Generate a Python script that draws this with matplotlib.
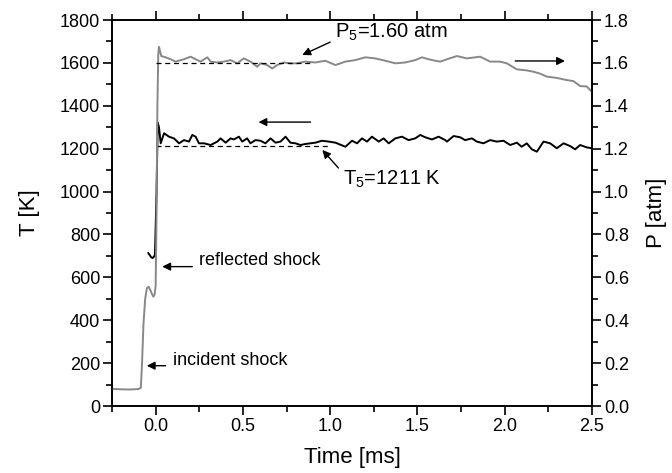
import matplotlib.pyplot as plt
from matplotlib.ticker import MultipleLocator

plt.rcParams['font.family'] = ['Liberation Sans', 'DejaVu Sans']
plt.rcParams['mathtext.fontset'] = 'custom'
plt.rcParams['mathtext.rm'] = 'Liberation Sans'
plt.rcParams['mathtext.it'] = 'Liberation Sans:italic'
plt.rcParams['mathtext.bf'] = 'Liberation Sans:bold'

# Pressure trace (atm), right axis
t_p = [-0.25, -0.20, -0.15, -0.10, -0.085, -0.078, -0.07, -0.06, -0.05, -0.04,
       -0.03, -0.02, -0.013, -0.006, 0.0, 0.005, 0.01, 0.015, 0.019,
       0.032, 0.057, 0.086, 0.114, 0.162, 0.200, 0.229, 0.257, 0.296, 0.315,
       0.353, 0.391, 0.429, 0.467, 0.505, 0.543, 0.582, 0.601, 0.639, 0.668,
       0.696, 0.734, 0.772, 0.810, 0.830, 0.858, 0.915, 0.972, 1.030, 1.087,
       1.144, 1.201, 1.258, 1.316, 1.373, 1.430, 1.487, 1.526, 1.564, 1.602,
       1.630, 1.669, 1.726, 1.783, 1.859, 1.916, 1.973, 2.012, 2.069, 2.126,
       2.164, 2.202, 2.241, 2.298, 2.355, 2.393, 2.432, 2.470, 2.498]
p = [0.080, 0.078, 0.077, 0.079, 0.085, 0.20, 0.38, 0.50, 0.550, 0.556,
     0.540, 0.520, 0.510, 0.520, 0.560, 0.90, 1.40, 1.640, 1.675,
     1.632, 1.626, 1.617, 1.606, 1.617, 1.629, 1.617, 1.606, 1.626, 1.606,
     1.602, 1.606, 1.613, 1.598, 1.621, 1.606, 1.582, 1.598, 1.590, 1.574,
     1.590, 1.602, 1.598, 1.598, 1.602, 1.606, 1.602, 1.610, 1.590, 1.606,
     1.613, 1.626, 1.621, 1.610, 1.598, 1.602, 1.613, 1.626, 1.617, 1.610,
     1.606, 1.617, 1.632, 1.621, 1.629, 1.606, 1.606, 1.598, 1.570, 1.565,
     1.559, 1.550, 1.536, 1.530, 1.520, 1.515, 1.492, 1.490, 1.466]

# Temperature trace (K), left axis
t_T = [-0.042, -0.034, -0.026, -0.018, -0.010, -0.004, 0.005, 0.012, 0.019,
       0.029, 0.048, 0.076, 0.105, 0.134, 0.162, 0.191, 0.210, 0.229, 0.248,
       0.277, 0.315, 0.353, 0.372, 0.401, 0.429, 0.448, 0.477, 0.496, 0.524,
       0.543, 0.572, 0.601, 0.629, 0.658, 0.687, 0.715, 0.744, 0.772, 0.801,
       0.830, 0.858, 0.915, 0.953, 0.992, 1.030, 1.087, 1.125, 1.154, 1.182,
       1.211, 1.239, 1.278, 1.306, 1.335, 1.373, 1.411, 1.449, 1.487, 1.516,
       1.545, 1.583, 1.621, 1.659, 1.669, 1.707, 1.745, 1.773, 1.812, 1.840,
       1.878, 1.916, 1.954, 1.993, 2.031, 2.069, 2.097, 2.126, 2.155, 2.184,
       2.222, 2.260, 2.298, 2.337, 2.375, 2.403, 2.432, 2.470, 2.498]
T = [713, 704, 694, 690, 696, 705, 1000, 1321, 1300,
     1225, 1272, 1256, 1248, 1225, 1240, 1233, 1264, 1256, 1225,
     1225, 1217, 1233, 1248, 1228, 1248, 1243, 1256, 1233, 1248,
     1225, 1240, 1237, 1225, 1248, 1228, 1233, 1256, 1228, 1225,
     1217, 1222, 1228, 1237, 1233, 1228, 1209, 1237, 1225, 1248,
     1233, 1256, 1233, 1248, 1225, 1248, 1256, 1240, 1248, 1264,
     1253, 1243, 1256, 1240, 1233, 1259, 1253, 1240, 1248, 1233,
     1225, 1240, 1233, 1237, 1217, 1228, 1209, 1225, 1197, 1186,
     1233, 1225, 1202, 1225, 1212, 1197, 1217, 1206, 1202]

T5 = 1211
P5 = 1.60

fig = plt.figure(figsize=(6.72, 4.73), dpi=100)
ax = fig.add_axes([0.1667, 0.1416, 0.7143, 0.8161])
ax2 = ax.twinx()

ax.plot(t_T, T, color='black', lw=1.4, zorder=2)
ax.plot([0.0, 1.0], [T5, T5], color='black', lw=0.9, ls=(0, (4, 3)), zorder=3)
ax2.plot(t_p, p, color='#888888', lw=1.4, zorder=2)
ax2.plot([0.0, 0.9], [P5, P5], color='black', lw=0.9, ls=(0, (4, 3)), zorder=3)

ax.set_xlim(-0.25, 2.5)
ax.set_ylim(0, 1800)
ax2.set_ylim(0, 1.8)

ax.xaxis.set_major_locator(MultipleLocator(0.5))
ax.xaxis.set_minor_locator(MultipleLocator(0.25))
ax.yaxis.set_major_locator(MultipleLocator(200))
ax.yaxis.set_minor_locator(MultipleLocator(100))
ax2.yaxis.set_major_locator(MultipleLocator(0.2))
ax2.yaxis.set_minor_locator(MultipleLocator(0.1))
ax2.yaxis.set_major_formatter(plt.FuncFormatter(lambda v, _: f'{v:.1f}'))
ax.xaxis.set_major_formatter(plt.FuncFormatter(lambda v, _: f'{v:.1f}'))

ax.tick_params(which='both', direction='out', top=True, labelsize=13, width=1.2)
ax.tick_params(which='major', length=6.5, pad=2)
ax.tick_params(which='minor', length=4)
ax2.tick_params(which='both', direction='out', labelsize=13, width=1.2)
ax2.tick_params(which='major', length=6.5, pad=2)
ax2.tick_params(which='minor', length=4)
for a in (ax, ax2):
    for s in a.spines.values():
        s.set_linewidth(1.2)

ax.set_xlabel('Time [ms]', fontsize=16, labelpad=9)
ax.set_ylabel('T [K]', fontsize=16, labelpad=14)
ax2.set_ylabel('P [atm]', fontsize=16, labelpad=12)

arr = dict(arrowstyle='-|>', color='black', lw=1.0, mutation_scale=12,
           shrinkA=0, shrinkB=0)

ax.annotate('', xy=(0.84, 1637), xytext=(1.0, 1697), arrowprops=arr)
ax.text(1.03, 1716, 'P$_5$=1.60 atm', fontsize=14.5, va='baseline')
ax.annotate('', xy=(0.955, 1194), xytext=(1.047, 1110), arrowprops=arr)
ax.text(1.075, 1030, 'T$_5$=1211 K', fontsize=14.5, va='baseline')
ax.annotate('', xy=(0.589, 1324), xytext=(0.887, 1324), arrowprops=arr)
ax.annotate('', xy=(2.345, 1609), xytext=(2.06, 1609), arrowprops=arr)
ax.annotate('', xy=(0.038, 650), xytext=(0.21, 650), arrowprops=arr)
ax.text(0.246, 657, 'reflected shock', fontsize=13, va='baseline')
ax.annotate('', xy=(-0.051, 188), xytext=(0.057, 188), arrowprops=arr)
ax.text(0.10, 191, 'incident shock', fontsize=13, va='baseline')

fig.savefig('out.png', dpi=100)
